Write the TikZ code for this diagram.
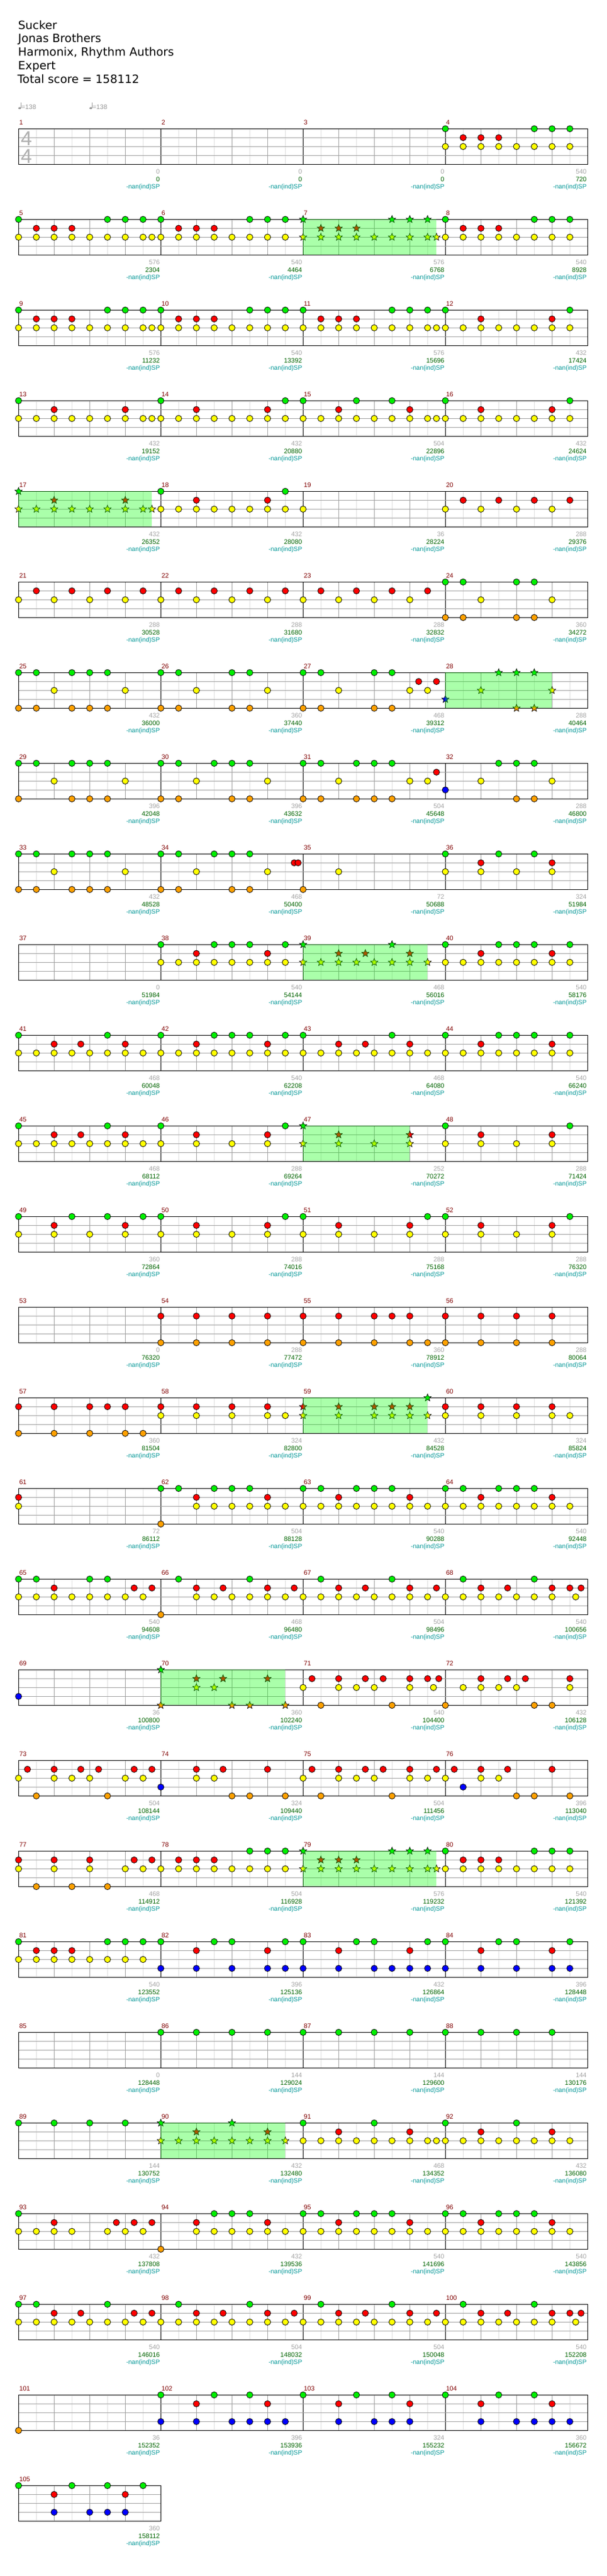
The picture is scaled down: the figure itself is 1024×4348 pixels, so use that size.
\documentclass[tikz,border=0pt]{standalone}
\usepackage{fontspec}
\setmainfont{Liberation Sans}
\newfontfamily\hdrfont{DejaVu Sans}
\usetikzlibrary{shapes.geometric}

\definecolor{lane0}{RGB}{0,240,0}
\definecolor{lane1}{RGB}{255,0,0}
\definecolor{lane2}{RGB}{255,255,0}
\definecolor{lane3}{RGB}{0,0,255}
\definecolor{lane4}{RGB}{255,160,0}
\definecolor{spgreen}{RGB}{0,255,0}
\definecolor{gridmid}{RGB}{160,160,160}
\definecolor{gridlight}{RGB}{222,222,222}
\definecolor{mnumcol}{RGB}{128,0,0}
\definecolor{scgray}{RGB}{165,165,165}
\definecolor{scgreen}{RGB}{0,100,0}
\definecolor{spteal}{RGB}{0,150,150}
\definecolor{tsgray}{RGB}{175,175,175}
\definecolor{tempogray}{RGB}{150,150,150}

\tikzset{
  starnote/.style={star,star points=5,star point ratio=2.3,minimum size=13pt,inner sep=0pt,draw=black,line width=0.7pt},
  mnum/.style={anchor=base west,inner sep=0pt,text=mnumcol,font=\fontsize{11}{11}\selectfont},
  scg/.style={anchor=base east,inner sep=0pt,text=scgray,font=\fontsize{11}{11}\selectfont},
  scgr/.style={anchor=base east,inner sep=0pt,text=scgreen,font=\fontsize{11}{11}\selectfont},
  spt/.style={anchor=base east,inner sep=0pt,text=spteal,font=\fontsize{10.6}{11}\selectfont},
  hdr/.style={anchor=base west,inner sep=0pt,font=\hdrfont\fontsize{19.3}{20}\selectfont},
  tempo/.style={anchor=base west,inner sep=0pt,text=tempogray,font=\fontsize{11}{11}\selectfont},
  tsig/.style={anchor=base,inner sep=0pt,text=tsgray,font=\fontsize{34}{34}\selectfont}
}

\newcommand\NoteRow[3]{\foreach \pos in {#3}{\filldraw[fill=lane#2,draw=black,line width=0.8pt] ({31.3+30*\pos},{217.3+153*#1+15*#2}) circle[radius=5.3pt];}}
\newcommand\StarRow[3]{\foreach \pos in {#3}{\node[starnote,fill=lane#2] at ({31.3+30*\pos},{217.3+153*#1+15*#2}) {};}}
\newcommand\SPArea[3]{\fill[spgreen,fill opacity=0.333] ({31.3+30*#2},{217.3+153*#1}) rectangle ({31.3+30*#3},{277.3+153*#1});}

\newcommand\StaffRow[3]{%
  \pgfmathsetmacro\yt{217.3+153*#1}%
  \pgfmathsetmacro\yb{\yt+60}%
  \pgfmathsetmacro\xe{31.3+240*#2}%
  \pgfmathtruncatemacro\nodd{8*#2-1}%
  \pgfmathtruncatemacro\nev{8*#2-2}%
  \foreach \ii in {1,3,...,\nodd} {\draw[gridlight,line width=1pt] ({31.3+30*\ii},\yt) -- ({31.3+30*\ii},\yb);}
  \foreach \ii in {2,4,...,\nev} {%
    \pgfmathtruncatemacro\rmod{mod(\ii,8)}%
    \ifnum\rmod=0
      \draw[black,line width=1pt] ({31.3+30*\ii},\yt) -- ({31.3+30*\ii},\yb);
    \else
      \draw[gridmid,line width=1pt] ({31.3+30*\ii},\yt) -- ({31.3+30*\ii},\yb);
    \fi}
  \foreach \jj in {1,2,3} {\draw[gridmid,line width=1pt] (31.3,{\yt+15*\jj}) -- (\xe,{\yt+15*\jj});}
  \draw[black,line width=1.2pt] (31.3,\yt) rectangle (\xe,\yb);
  \foreach \mm in {1,...,#2} {%
    \pgfmathtruncatemacro\mnum{#3+\mm-1}%
    \node[mnum] at ({31.3+240*(\mm-1)+1},{\yt-7.3}) {\mnum};}
}

\newcommand\Scores[2]{%
  \pgfmathsetmacro\ybs{277.3+153*#1}%
  \foreach \scA/\scB [count=\ii] in {#2} {%
    \node[scg] at ({31.3+240*\ii-1.5},{\ybs+16}) {\scA};
    \node[scgr] at ({31.3+240*\ii-1.5},{\ybs+29}) {\scB};
    \node[spt] at ({31.3+240*\ii-1.5},{\ybs+41.5}) {-nan(ind)SP};}
}

\begin{document}
\begin{tikzpicture}[x=1pt,y=-1pt]
\useasboundingbox (0,0) rectangle (1024,4348);
\fill[white] (0,0) rectangle (1024,4348);

% header
\node[hdr] (title) at (30.5,49.3) {Sucker};
\node[hdr] (artist) at (30.5,71.7) {Jonas Brothers};
\node[hdr] (authors) at (30.5,94.3) {Harmonix, Rhythm Authors};
\node[hdr] (diff) at (30.5,117.3) {Expert};
\node[hdr] (total) at (29.5,140.7) {Total score = 158112};

% tempo marks
\foreach \tx in {0,120} {
  \fill[tempogray] ({33.2+\tx},182.6) ellipse[x radius=2.4pt,y radius=1.7pt];
  \draw[tempogray,line width=0.7pt] ({35.3+\tx},182.3) -- ({35.3+\tx},173.3);
  \node[tempo] at ({36+\tx},184.3) {=138};
}

% staves
\foreach \k in {0,...,25} {\StaffRow{\k}{4}{4*\k+1}}
\StaffRow{26}{1}{105}

% time signature
\node[tsig] (tsA) at (44.5,245) {4};
\node[tsig] (tsB) at (44.5,275) {4};

% scores
\Scores{0}{0/0,0/0,0/0,540/720}
\Scores{1}{576/2304,540/4464,576/6768,540/8928}
\Scores{2}{576/11232,540/13392,576/15696,432/17424}
\Scores{3}{432/19152,432/20880,504/22896,432/24624}
\Scores{4}{432/26352,432/28080,36/28224,288/29376}
\Scores{5}{288/30528,288/31680,288/32832,360/34272}
\Scores{6}{432/36000,360/37440,468/39312,288/40464}
\Scores{7}{396/42048,396/43632,504/45648,288/46800}
\Scores{8}{432/48528,468/50400,72/50688,324/51984}
\Scores{9}{0/51984,540/54144,468/56016,540/58176}
\Scores{10}{468/60048,540/62208,468/64080,540/66240}
\Scores{11}{468/68112,288/69264,252/70272,288/71424}
\Scores{12}{360/72864,288/74016,288/75168,288/76320}
\Scores{13}{0/76320,288/77472,360/78912,288/80064}
\Scores{14}{360/81504,324/82800,432/84528,324/85824}
\Scores{15}{72/86112,504/88128,540/90288,540/92448}
\Scores{16}{540/94608,468/96480,504/98496,540/100656}
\Scores{17}{36/100800,360/102240,540/104400,432/106128}
\Scores{18}{504/108144,324/109440,504/111456,396/113040}
\Scores{19}{468/114912,504/116928,576/119232,540/121392}
\Scores{20}{540/123552,396/125136,432/126864,396/128448}
\Scores{21}{0/128448,144/129024,144/129600,144/130176}
\Scores{22}{144/130752,432/132480,468/134352,432/136080}
\Scores{23}{432/137808,432/139536,540/141696,540/143856}
\Scores{24}{540/146016,504/148032,504/150048,540/152208}
\Scores{25}{36/152352,396/153936,324/155232,360/156672}
\Scores{26}{360/158112}

% ---- notes ----
% row 0
\NoteRow{0}{0}{24,29,30,31}
\NoteRow{0}{1}{25,26,27}
\NoteRow{0}{2}{24,...,31}
% row 1
\NoteRow{1}{0}{0,5,6,7,8,13,14,15,24,29,30,31}
\NoteRow{1}{1}{1,2,3,9,10,11,25,26,27}
\NoteRow{1}{2}{0,...,15}
\NoteRow{1}{2}{7.5}
\NoteRow{1}{2}{24,...,31}
\StarRow{1}{0}{16,21,22,23}
\StarRow{1}{1}{17,18,19}
\StarRow{1}{2}{16,...,23}
\StarRow{1}{2}{23.5}
% row 2
\NoteRow{2}{0}{0,5,6,7,8,13,14,15,16,21,22,23,24,31}
\NoteRow{2}{1}{1,2,3,9,10,11,17,18,19,26,30}
\NoteRow{2}{2}{0,...,31}
\NoteRow{2}{2}{7.5,23.5}
% row 3
\NoteRow{3}{0}{0,8,15,16,19,21,24,31}
\NoteRow{3}{1}{2,6,10,14,18,22,26,30}
\NoteRow{3}{2}{0,...,31}
\NoteRow{3}{2}{7.5,23.5}
% row 4
\StarRow{4}{0}{0}
\StarRow{4}{1}{2,6}
\StarRow{4}{2}{0,...,7}
\StarRow{4}{2}{7.5}
\NoteRow{4}{0}{8,15}
\NoteRow{4}{1}{10,14,25,27,29,31}
\NoteRow{4}{2}{8,...,16}
\NoteRow{4}{2}{24,26,28,30}
% row 5
\NoteRow{5}{1}{1,3,...,23}
\NoteRow{5}{2}{0,2,...,22}
\NoteRow{5}{2}{26,30}
\NoteRow{5}{0}{24,25,28,29}
\NoteRow{5}{4}{24,25,28,29}
% row 6
\NoteRow{6}{0}{0,1,3,4,5,8,9,12,13,16,17,20,21}
\NoteRow{6}{4}{0,1,3,4,5,8,9,12,13,16,17,20,21}
\NoteRow{6}{2}{2,6,10,14,18,22,23}
\NoteRow{6}{1}{22.5,23.5}
\StarRow{6}{0}{27,28,29}
\StarRow{6}{4}{28,29}
\StarRow{6}{2}{26,30}
\StarRow{6}{3}{24}
% row 7
\NoteRow{7}{0}{0,1,3,4,5,8,9,11,12,13,16,17,19,20,21,27,28,29}
\NoteRow{7}{4}{0,3,4,5,8,9,12,13,16,17,19,20,21,28,29}
\NoteRow{7}{2}{2,6,10,14,18,22,23,26,30}
\NoteRow{7}{1}{23.5}
\NoteRow{7}{3}{24}
% row 8
\NoteRow{8}{0}{0,1,3,4,5,8,9,11,12,13,24,27,29}
\NoteRow{8}{4}{0,1,3,4,5,8,9,12,13,16}
\NoteRow{8}{2}{2,6,10,14,18,24,26,28,30}
\NoteRow{8}{1}{15.5,15.72,26,30}
% row 9
\NoteRow{9}{0}{8,11,12,13,15,24,27,28,29,31}
\StarRow{9}{0}{16,21}
\NoteRow{9}{1}{10,14,26,30}
\StarRow{9}{1}{18,19.5,22}
\NoteRow{9}{2}{8,...,15}
\NoteRow{9}{2}{24,...,31}
\StarRow{9}{2}{16,...,23}
% row 10
\NoteRow{10}{0}{0,5,8,11,12,13,15,16,21,24,27,28,29,31}
\NoteRow{10}{1}{2,3.5,6,10,14,18,19.5,22,26,30}
\NoteRow{10}{2}{0,...,31}
% row 11
\NoteRow{11}{0}{0,5,8,15,24,31}
\StarRow{11}{0}{16}
\NoteRow{11}{1}{2,3.5,6,10,14,26,30}
\StarRow{11}{1}{18,22}
\NoteRow{11}{2}{0,...,8}
\NoteRow{11}{2}{10,12,14,24,26,28,30}
\StarRow{11}{2}{16,18,20,22}
% row 12
\NoteRow{12}{0}{0,3,5,7,8,15,16,23,24,31}
\NoteRow{12}{1}{2,6,10,14,18,22,26,30}
\NoteRow{12}{2}{0,2,...,30}
% row 13
\NoteRow{13}{1}{8,10,12,14,16,18,20,21,22,24,26,28,30}
\NoteRow{13}{4}{8,10,12,14,16,18,20,22,23,24,26,28,30}
% row 14
\NoteRow{14}{1}{0,2,4,5,6,8,10,12,14,24,26,28,30}
\StarRow{14}{1}{16,18,20,21,22}
\NoteRow{14}{4}{0,2,4,6,7}
\NoteRow{14}{2}{8,10,12,14,15,24,26,28,30,31}
\StarRow{14}{2}{16,18,20,21,22,23}
\StarRow{14}{0}{23}
% row 15
\NoteRow{15}{1}{0,10,14,18,22,26,30}
\NoteRow{15}{2}{0}
\NoteRow{15}{2}{10,...,31}
\NoteRow{15}{0}{8,9,11,12,13,16,17,19,20,21,24,25,27,28,29}
\NoteRow{15}{4}{8}
% row 16
\NoteRow{16}{0}{0,1,4,5,9,13,17,21,25,29}
\NoteRow{16}{1}{2,6.5,7.5,10,11.5,14,15.5,18,19.5,22,23.5,26,27.5,30,31,31.63}
\NoteRow{16}{2}{0,...,7}
\NoteRow{16}{2}{10,...,30}
\NoteRow{16}{2}{31.33}
\NoteRow{16}{4}{8}
% row 17
\NoteRow{17}{3}{0}
\StarRow{17}{0}{8}
\StarRow{17}{1}{10,11.5,14}
\StarRow{17}{2}{10,11}
\StarRow{17}{4}{8,12,13,15}
\NoteRow{17}{1}{16.5,18,19.5,20.5,22,23,23.63,26,27.5,28.5,31}
\NoteRow{17}{2}{16,18,19,20,22,23.33,25,26,27,28,31}
\NoteRow{17}{4}{17,21,24,29,30}
% row 18
\NoteRow{18}{1}{0.5,2,3.5,4.5,6.5,7.5,10,11.5,14,16.5,18,19.5,20.5,22,23.5,24.5,26,27.5,30}
\NoteRow{18}{2}{0,2,3,4,6,7,10,11,16,18,19,20,22,23,24,26,27}
\NoteRow{18}{3}{8,25}
\NoteRow{18}{4}{1,5,12,13,15,17,21,28,29,31}
% row 19
\NoteRow{19}{1}{0,2,4,6.5,7.5,9,10,11,25,26,27}
\StarRow{19}{1}{17,18,19}
\NoteRow{19}{2}{0,2,4}
\NoteRow{19}{2}{6,...,15}
\NoteRow{19}{2}{24,...,31}
\StarRow{19}{2}{16,...,23}
\StarRow{19}{2}{23.5}
\NoteRow{19}{0}{13,14,15,24,29,30,31}
\StarRow{19}{0}{16,21,22,23}
\NoteRow{19}{4}{1,3,5}
% row 20
\NoteRow{20}{0}{0,5,6,7,8,11,12,15,16,19,20,23,24,27,28,31}
\NoteRow{20}{1}{1,2,3,10,14,18,22,26,30}
\NoteRow{20}{2}{0,...,7}
\NoteRow{20}{3}{8,10,12,14,15,16,18,20,21,22,23,24,26,28,30,31}
% row 21
\NoteRow{21}{0}{8,10,...,30}
% row 22
\NoteRow{22}{0}{0,2,4,6,16,20,24,28}
\StarRow{22}{0}{8,12}
\NoteRow{22}{1}{18,22,26,30}
\StarRow{22}{1}{10,14}
\NoteRow{22}{2}{16,...,31}
\NoteRow{22}{2}{23.5}
\StarRow{22}{2}{8,...,15}
% row 23
\NoteRow{23}{0}{0,11,12,13,16,17,19,20,21,24,25,27,28,29}
\NoteRow{23}{1}{2,5.5,6.5,7.5,10,14,18,22,26,30}
\NoteRow{23}{2}{0,1,2,3,5,6,7}
\NoteRow{23}{2}{10,...,31}
\NoteRow{23}{4}{8}
% row 24
\NoteRow{24}{0}{0,1,5,9,13,17,21,25,29}
\NoteRow{24}{1}{2,3.5,6.5,7.5,10,11.5,14,15.5,18,19.5,22,23.5,26,27.5,30,31,31.63}
\NoteRow{24}{2}{0,...,30}
\NoteRow{24}{2}{31.33}
% row 25
\NoteRow{25}{4}{0}
\NoteRow{25}{0}{8,11,13,16,19,21,24,27,29}
\NoteRow{25}{1}{10,14,18,22,26,30}
\NoteRow{25}{3}{8,10,12,13,14,15,18,20,21,22,26,28,29,30,31}
% row 26
\NoteRow{26}{0}{0,3,5,7}
\NoteRow{26}{1}{2,6}
\NoteRow{26}{3}{2,4,5,6}

% ---- star power phrases ----
\SPArea{1}{16}{23.48}
\SPArea{4}{0}{7.48}
\SPArea{6}{24}{29.98}
\SPArea{9}{16}{22.98}
\SPArea{11}{16}{21.98}
\SPArea{14}{16}{22.98}
\SPArea{17}{8}{14.98}
\SPArea{19}{16}{23.48}
\SPArea{22}{8}{14.98}
\end{tikzpicture}
\end{document}
